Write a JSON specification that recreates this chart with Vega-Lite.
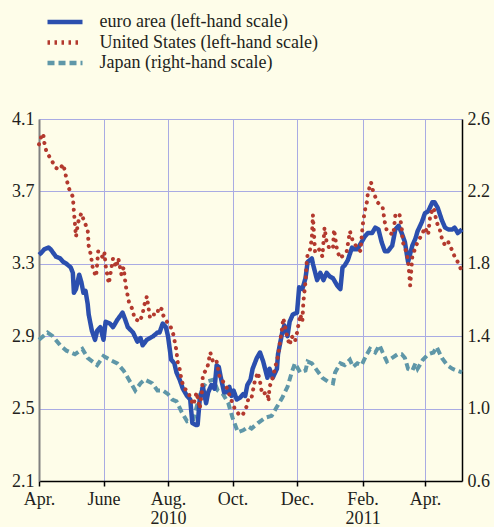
{
  "$schema": "https://vega.github.io/schema/vega-lite/v6.json",
  "width": 423,
  "height": 362,
  "autosize": {"type": "none"},
  "padding": {"left": 39, "top": 119, "right": 32, "bottom": 46},
  "background": "#fefde9",
  "config": {
    "view": {"stroke": null},
    "font": "Liberation Serif",
    "axis": {"labelFont": "Liberation Serif", "labelFontSize": 18, "labelColor": "#231f20"},
    "legend": {"labelFont": "Liberation Serif", "labelLimit": 400}
  },
  "datasets": {
    "ea": [
      {"date":"2010-04-01","value":3.35},{"date":"2010-04-03","value":3.36},{"date":"2010-04-06","value":3.38},{"date":"2010-04-10","value":3.39},{"date":"2010-04-12","value":3.38},{"date":"2010-04-17","value":3.34},{"date":"2010-04-21","value":3.33},{"date":"2010-04-24","value":3.31},{"date":"2010-04-27","value":3.30},{"date":"2010-04-29","value":3.29},{"date":"2010-05-01","value":3.28},{"date":"2010-05-03","value":3.25},{"date":"2010-05-04","value":3.14},{"date":"2010-05-06","value":3.16},{"date":"2010-05-09","value":3.24},{"date":"2010-05-11","value":3.20},{"date":"2010-05-13","value":3.14},{"date":"2010-05-15","value":3.15},{"date":"2010-05-17","value":3.08},{"date":"2010-05-18","value":3.02},{"date":"2010-05-21","value":2.93},{"date":"2010-05-24","value":2.88},{"date":"2010-05-26","value":2.93},{"date":"2010-05-29","value":2.95},{"date":"2010-06-01","value":2.88},{"date":"2010-06-03","value":2.98},{"date":"2010-06-07","value":2.97},{"date":"2010-06-10","value":2.95},{"date":"2010-06-14","value":2.99},{"date":"2010-06-19","value":3.03},{"date":"2010-06-21","value":3.00},{"date":"2010-06-24","value":2.95},{"date":"2010-06-29","value":2.92},{"date":"2010-07-03","value":2.87},{"date":"2010-07-06","value":2.89},{"date":"2010-07-08","value":2.85},{"date":"2010-07-12","value":2.88},{"date":"2010-07-15","value":2.89},{"date":"2010-07-18","value":2.90},{"date":"2010-07-22","value":2.92},{"date":"2010-07-24","value":2.92},{"date":"2010-07-27","value":2.97},{"date":"2010-07-30","value":2.95},{"date":"2010-08-01","value":2.90},{"date":"2010-08-04","value":2.77},{"date":"2010-08-07","value":2.75},{"date":"2010-08-09","value":2.70},{"date":"2010-08-12","value":2.66},{"date":"2010-08-15","value":2.61},{"date":"2010-08-19","value":2.57},{"date":"2010-08-22","value":2.55},{"date":"2010-08-24","value":2.42},{"date":"2010-08-27","value":2.41},{"date":"2010-08-29","value":2.41},{"date":"2010-08-31","value":2.55},{"date":"2010-09-03","value":2.62},{"date":"2010-09-06","value":2.53},{"date":"2010-09-08","value":2.59},{"date":"2010-09-11","value":2.63},{"date":"2010-09-14","value":2.61},{"date":"2010-09-16","value":2.74},{"date":"2010-09-18","value":2.73},{"date":"2010-09-20","value":2.67},{"date":"2010-09-23","value":2.59},{"date":"2010-09-26","value":2.59},{"date":"2010-09-28","value":2.62},{"date":"2010-09-30","value":2.57},{"date":"2010-10-02","value":2.60},{"date":"2010-10-05","value":2.55},{"date":"2010-10-08","value":2.56},{"date":"2010-10-11","value":2.58},{"date":"2010-10-13","value":2.57},{"date":"2010-10-15","value":2.63},{"date":"2010-10-18","value":2.66},{"date":"2010-10-20","value":2.72},{"date":"2010-10-24","value":2.78},{"date":"2010-10-27","value":2.81},{"date":"2010-10-30","value":2.76},{"date":"2010-11-03","value":2.67},{"date":"2010-11-05","value":2.72},{"date":"2010-11-08","value":2.67},{"date":"2010-11-12","value":2.72},{"date":"2010-11-13","value":2.80},{"date":"2010-11-17","value":2.92},{"date":"2010-11-19","value":2.96},{"date":"2010-11-22","value":2.90},{"date":"2010-11-24","value":2.98},{"date":"2010-11-27","value":3.02},{"date":"2010-12-01","value":3.03},{"date":"2010-12-03","value":3.17},{"date":"2010-12-06","value":3.16},{"date":"2010-12-09","value":3.22},{"date":"2010-12-11","value":3.31},{"date":"2010-12-15","value":3.33},{"date":"2010-12-16","value":3.30},{"date":"2010-12-20","value":3.21},{"date":"2010-12-23","value":3.25},{"date":"2010-12-26","value":3.21},{"date":"2010-12-29","value":3.25},{"date":"2011-01-01","value":3.23},{"date":"2011-01-04","value":3.22},{"date":"2011-01-08","value":3.18},{"date":"2011-01-11","value":3.16},{"date":"2011-01-13","value":3.28},{"date":"2011-01-15","value":3.29},{"date":"2011-01-18","value":3.32},{"date":"2011-01-22","value":3.39},{"date":"2011-01-23","value":3.38},{"date":"2011-01-27","value":3.38},{"date":"2011-01-31","value":3.42},{"date":"2011-02-03","value":3.45},{"date":"2011-02-06","value":3.47},{"date":"2011-02-10","value":3.47},{"date":"2011-02-13","value":3.50},{"date":"2011-02-16","value":3.49},{"date":"2011-02-19","value":3.42},{"date":"2011-02-22","value":3.37},{"date":"2011-02-25","value":3.37},{"date":"2011-03-01","value":3.40},{"date":"2011-03-04","value":3.49},{"date":"2011-03-07","value":3.51},{"date":"2011-03-10","value":3.47},{"date":"2011-03-13","value":3.42},{"date":"2011-03-16","value":3.31},{"date":"2011-03-20","value":3.40},{"date":"2011-03-23","value":3.44},{"date":"2011-03-25","value":3.48},{"date":"2011-03-29","value":3.53},{"date":"2011-04-01","value":3.58},{"date":"2011-04-04","value":3.59},{"date":"2011-04-08","value":3.64},{"date":"2011-04-10","value":3.64},{"date":"2011-04-13","value":3.61},{"date":"2011-04-17","value":3.54},{"date":"2011-04-20","value":3.50},{"date":"2011-04-23","value":3.49},{"date":"2011-04-27","value":3.49},{"date":"2011-04-29","value":3.50},{"date":"2011-05-02","value":3.47},{"date":"2011-05-06","value":3.49}
    ],
    "us": [
      {"date":"2010-04-01","value":3.96},{"date":"2010-04-03","value":4.00},{"date":"2010-04-05","value":4.02},{"date":"2010-04-06","value":3.97},{"date":"2010-04-08","value":3.92},{"date":"2010-04-12","value":3.88},{"date":"2010-04-17","value":3.83},{"date":"2010-04-20","value":3.82},{"date":"2010-04-24","value":3.85},{"date":"2010-04-27","value":3.77},{"date":"2010-04-29","value":3.72},{"date":"2010-05-03","value":3.67},{"date":"2010-05-04","value":3.59},{"date":"2010-05-06","value":3.45},{"date":"2010-05-08","value":3.53},{"date":"2010-05-11","value":3.58},{"date":"2010-05-14","value":3.53},{"date":"2010-05-17","value":3.49},{"date":"2010-05-18","value":3.40},{"date":"2010-05-20","value":3.35},{"date":"2010-05-22","value":3.27},{"date":"2010-05-25","value":3.23},{"date":"2010-05-27","value":3.37},{"date":"2010-06-01","value":3.33},{"date":"2010-06-02","value":3.36},{"date":"2010-06-03","value":3.29},{"date":"2010-06-06","value":3.19},{"date":"2010-06-10","value":3.33},{"date":"2010-06-13","value":3.28},{"date":"2010-06-15","value":3.33},{"date":"2010-06-18","value":3.24},{"date":"2010-06-20","value":3.28},{"date":"2010-06-22","value":3.18},{"date":"2010-06-25","value":3.09},{"date":"2010-06-29","value":3.04},{"date":"2010-06-30","value":3.00},{"date":"2010-07-05","value":2.98},{"date":"2010-07-08","value":3.02},{"date":"2010-07-09","value":3.06},{"date":"2010-07-12","value":3.12},{"date":"2010-07-15","value":3.00},{"date":"2010-07-18","value":3.02},{"date":"2010-07-22","value":3.02},{"date":"2010-07-23","value":3.06},{"date":"2010-07-26","value":3.05},{"date":"2010-07-27","value":3.02},{"date":"2010-07-31","value":2.98},{"date":"2010-08-03","value":2.96},{"date":"2010-08-06","value":2.91},{"date":"2010-08-09","value":2.82},{"date":"2010-08-10","value":2.76},{"date":"2010-08-12","value":2.72},{"date":"2010-08-14","value":2.65},{"date":"2010-08-17","value":2.61},{"date":"2010-08-20","value":2.59},{"date":"2010-08-25","value":2.52},{"date":"2010-08-28","value":2.59},{"date":"2010-08-29","value":2.56},{"date":"2010-08-31","value":2.50},{"date":"2010-09-02","value":2.59},{"date":"2010-09-03","value":2.69},{"date":"2010-09-07","value":2.72},{"date":"2010-09-10","value":2.81},{"date":"2010-09-13","value":2.75},{"date":"2010-09-16","value":2.76},{"date":"2010-09-19","value":2.67},{"date":"2010-09-22","value":2.65},{"date":"2010-09-26","value":2.61},{"date":"2010-09-29","value":2.56},{"date":"2010-10-03","value":2.50},{"date":"2010-10-08","value":2.46},{"date":"2010-10-11","value":2.47},{"date":"2010-10-15","value":2.52},{"date":"2010-10-16","value":2.56},{"date":"2010-10-19","value":2.56},{"date":"2010-10-22","value":2.65},{"date":"2010-10-25","value":2.70},{"date":"2010-10-27","value":2.65},{"date":"2010-10-29","value":2.58},{"date":"2010-11-03","value":2.59},{"date":"2010-11-04","value":2.54},{"date":"2010-11-05","value":2.62},{"date":"2010-11-08","value":2.67},{"date":"2010-11-10","value":2.72},{"date":"2010-11-13","value":2.79},{"date":"2010-11-15","value":2.87},{"date":"2010-11-17","value":2.95},{"date":"2010-11-18","value":3.00},{"date":"2010-11-22","value":2.89},{"date":"2010-11-24","value":2.85},{"date":"2010-11-26","value":2.90},{"date":"2010-11-29","value":2.87},{"date":"2010-12-01","value":2.92},{"date":"2010-12-04","value":3.02},{"date":"2010-12-06","value":2.98},{"date":"2010-12-07","value":3.09},{"date":"2010-12-09","value":3.20},{"date":"2010-12-10","value":3.30},{"date":"2010-12-11","value":3.35},{"date":"2010-12-13","value":3.37},{"date":"2010-12-15","value":3.44},{"date":"2010-12-16","value":3.57},{"date":"2010-12-18","value":3.37},{"date":"2010-12-21","value":3.39},{"date":"2010-12-25","value":3.34},{"date":"2010-12-27","value":3.50},{"date":"2010-12-29","value":3.42},{"date":"2011-01-01","value":3.38},{"date":"2011-01-04","value":3.39},{"date":"2011-01-05","value":3.49},{"date":"2011-01-08","value":3.37},{"date":"2011-01-11","value":3.33},{"date":"2011-01-14","value":3.35},{"date":"2011-01-17","value":3.37},{"date":"2011-01-20","value":3.48},{"date":"2011-01-23","value":3.42},{"date":"2011-01-27","value":3.39},{"date":"2011-01-30","value":3.37},{"date":"2011-02-01","value":3.51},{"date":"2011-02-03","value":3.59},{"date":"2011-02-05","value":3.64},{"date":"2011-02-06","value":3.69},{"date":"2011-02-09","value":3.75},{"date":"2011-02-11","value":3.70},{"date":"2011-02-15","value":3.64},{"date":"2011-02-17","value":3.63},{"date":"2011-02-20","value":3.61},{"date":"2011-02-22","value":3.53},{"date":"2011-02-24","value":3.48},{"date":"2011-02-27","value":3.47},{"date":"2011-03-02","value":3.46},{"date":"2011-03-04","value":3.57},{"date":"2011-03-07","value":3.56},{"date":"2011-03-08","value":3.57},{"date":"2011-03-10","value":3.50},{"date":"2011-03-11","value":3.42},{"date":"2011-03-13","value":3.39},{"date":"2011-03-15","value":3.35},{"date":"2011-03-16","value":3.31},{"date":"2011-03-17","value":3.25},{"date":"2011-03-18","value":3.18},{"date":"2011-03-20","value":3.34},{"date":"2011-03-23","value":3.39},{"date":"2011-03-25","value":3.42},{"date":"2011-03-29","value":3.46},{"date":"2011-04-01","value":3.50},{"date":"2011-04-04","value":3.46},{"date":"2011-04-06","value":3.57},{"date":"2011-04-09","value":3.61},{"date":"2011-04-10","value":3.59},{"date":"2011-04-12","value":3.53},{"date":"2011-04-15","value":3.49},{"date":"2011-04-17","value":3.44},{"date":"2011-04-20","value":3.40},{"date":"2011-04-23","value":3.42},{"date":"2011-04-27","value":3.37},{"date":"2011-04-29","value":3.34},{"date":"2011-05-02","value":3.31},{"date":"2011-05-05","value":3.27}
    ],
    "jp": [
      {"date":"2010-04-01","value":1.38},{"date":"2010-04-09","value":1.42},{"date":"2010-04-14","value":1.40},{"date":"2010-04-21","value":1.35},{"date":"2010-04-27","value":1.32},{"date":"2010-05-05","value":1.30},{"date":"2010-05-12","value":1.33},{"date":"2010-05-17","value":1.28},{"date":"2010-05-26","value":1.24},{"date":"2010-06-01","value":1.29},{"date":"2010-06-07","value":1.27},{"date":"2010-06-14","value":1.25},{"date":"2010-06-20","value":1.21},{"date":"2010-06-26","value":1.15},{"date":"2010-07-01","value":1.10},{"date":"2010-07-06","value":1.14},{"date":"2010-07-10","value":1.16},{"date":"2010-07-17","value":1.14},{"date":"2010-07-22","value":1.10},{"date":"2010-07-27","value":1.10},{"date":"2010-08-01","value":1.08},{"date":"2010-08-05","value":1.05},{"date":"2010-08-09","value":1.04},{"date":"2010-08-14","value":0.98},{"date":"2010-08-19","value":0.93},{"date":"2010-08-25","value":0.94},{"date":"2010-08-29","value":1.03},{"date":"2010-09-02","value":1.11},{"date":"2010-09-07","value":1.15},{"date":"2010-09-13","value":1.16},{"date":"2010-09-17","value":1.10},{"date":"2010-09-22","value":1.08},{"date":"2010-09-27","value":1.03},{"date":"2010-10-01","value":0.95},{"date":"2010-10-06","value":0.87},{"date":"2010-10-11","value":0.88},{"date":"2010-10-16","value":0.90},{"date":"2010-10-19","value":0.89},{"date":"2010-10-25","value":0.92},{"date":"2010-11-01","value":0.95},{"date":"2010-11-07","value":0.96},{"date":"2010-11-12","value":1.01},{"date":"2010-11-17","value":1.06},{"date":"2010-11-22","value":1.12},{"date":"2010-11-26","value":1.20},{"date":"2010-11-29","value":1.25},{"date":"2010-12-04","value":1.20},{"date":"2010-12-09","value":1.21},{"date":"2010-12-11","value":1.26},{"date":"2010-12-15","value":1.25},{"date":"2010-12-20","value":1.21},{"date":"2010-12-25","value":1.17},{"date":"2010-12-30","value":1.15},{"date":"2011-01-04","value":1.14},{"date":"2011-01-06","value":1.20},{"date":"2011-01-11","value":1.25},{"date":"2011-01-15","value":1.24},{"date":"2011-01-20","value":1.27},{"date":"2011-01-23","value":1.23},{"date":"2011-01-27","value":1.25},{"date":"2011-01-31","value":1.24},{"date":"2011-02-05","value":1.30},{"date":"2011-02-08","value":1.33},{"date":"2011-02-13","value":1.31},{"date":"2011-02-17","value":1.35},{"date":"2011-02-20","value":1.31},{"date":"2011-02-24","value":1.26},{"date":"2011-03-01","value":1.28},{"date":"2011-03-06","value":1.30},{"date":"2011-03-10","value":1.30},{"date":"2011-03-13","value":1.28},{"date":"2011-03-16","value":1.22},{"date":"2011-03-20","value":1.21},{"date":"2011-03-23","value":1.25},{"date":"2011-03-25","value":1.22},{"date":"2011-03-30","value":1.27},{"date":"2011-04-04","value":1.30},{"date":"2011-04-09","value":1.31},{"date":"2011-04-12","value":1.34},{"date":"2011-04-17","value":1.28},{"date":"2011-04-22","value":1.24},{"date":"2011-04-27","value":1.22},{"date":"2011-05-01","value":1.21},{"date":"2011-05-06","value":1.20}
    ]
  },
  "encoding": {
    "x": {
      "field": "date",
      "type": "temporal",
      "scale": {"type": "utc", "domain": [{"year": 2010, "month": 4, "date": 1, "utc": true}, {"year": 2011, "month": 5, "date": 6, "utc": true}]},
      "axis": {
        "title": null,
        "values": [
          {"year": 2010, "month": 4, "date": 1, "utc": true},
          {"year": 2010, "month": 6, "date": 1, "utc": true},
          {"year": 2010, "month": 8, "date": 1, "utc": true},
          {"year": 2010, "month": 10, "date": 1, "utc": true},
          {"year": 2010, "month": 12, "date": 1, "utc": true},
          {"year": 2011, "month": 2, "date": 1, "utc": true},
          {"year": 2011, "month": 4, "date": 1, "utc": true}
        ],
        "labelExpr": "utcmonth(datum.value) == 3 ? 'Apr.' : utcmonth(datum.value) == 5 ? 'June' : utcmonth(datum.value) == 7 ? ['Aug.', '2010'] : utcmonth(datum.value) == 9 ? 'Oct.' : utcmonth(datum.value) == 11 ? 'Dec.' : ['Feb.', '2011']",
        "labelFont": "Liberation Serif",
        "labelFontSize": 18,
        "labelAlign": "center",
        "labelFlush": false,
        "labelOverlap": false,
        "labelLineHeight": 19,
        "labelPadding": 4,
        "grid": true,
        "gridColor": "#a9abe3",
        "gridWidth": 1,
        "domainColor": "#000000",
        "domainWidth": 1.5,
        "tickColor": "#000000",
        "tickSize": 5,
        "tickWidth": 1.5
      }
    }
  },
  "layer": [
    {
      "data": {"name": "jp"},
      "mark": {"type": "line", "strokeWidth": 4, "strokeCap": "butt", "strokeJoin": "miter"},
      "encoding": {
        "y": {
          "field": "value", "type": "quantitative",
          "scale": {"domain": [0.6, 2.6], "nice": false, "zero": false},
          "axis": {"orient": "right", "title": null, "values": [0.6, 1.0, 1.4, 1.8, 2.2, 2.6], "format": ".1f", "labelFont": "Liberation Serif", "labelFontSize": 18, "grid": false, "domainColor": "#000000", "domainWidth": 1.5, "ticks": false, "labelPadding": 5}
        },
        "color": {
          "datum": "JP", "type": "nominal",
          "scale": {"domain": ["EA", "US", "JP"], "range": ["#2b4fae", "#b3392e", "#5f97a8"]},
          "legend": {"title": null, "orient": "none", "legendX": 15, "legendY": -108, "symbolType": "M-2,0H2", "symbolSize": 306, "symbolStrokeWidth": 4.5, "symbolFillColor": "transparent", "labelFont": "Liberation Serif", "labelFontSize": 18, "labelColor": "#231f20", "labelLimit": 400, "labelOffset": 23.5, "rowPadding": 0.5, "labelExpr": "datum.label == 'EA' ? 'euro area (left-hand scale)' : datum.label == 'US' ? 'United States (left-hand scale)' : 'Japan (right-hand scale)'"}
        },
        "strokeDash": {
          "datum": "JP", "type": "nominal",
          "scale": {"domain": ["EA", "US", "JP"], "range": [[1, 0], [2.5, 4.5], [7, 4]]},
          "legend": {"title": null, "orient": "none", "legendX": 15, "legendY": -108, "symbolType": "M-2,0H2", "symbolSize": 306, "symbolStrokeWidth": 4.5, "symbolFillColor": "transparent", "labelFont": "Liberation Serif", "labelFontSize": 18, "labelColor": "#231f20", "labelLimit": 400, "labelOffset": 23.5, "rowPadding": 0.5, "labelExpr": "datum.label == 'EA' ? 'euro area (left-hand scale)' : datum.label == 'US' ? 'United States (left-hand scale)' : 'Japan (right-hand scale)'"}
        }
      }
    },
    {
      "data": {"name": "ea"},
      "mark": {"type": "line", "strokeWidth": 4.5, "strokeJoin": "round"},
      "encoding": {
        "y": {
          "field": "value", "type": "quantitative",
          "scale": {"domain": [2.1, 4.1], "nice": false, "zero": false},
          "axis": {"orient": "left", "title": null, "values": [2.1, 2.5, 2.9, 3.3, 3.7, 4.1], "format": ".1f", "labelFont": "Liberation Serif", "labelFontSize": 18, "grid": true, "gridColor": "#a9abe3", "gridWidth": 1, "domainColor": "#808080", "domainWidth": 2, "ticks": false, "labelPadding": 5}
        },
        "color": {"datum": "EA", "type": "nominal"},
        "strokeDash": {"datum": "EA", "type": "nominal"}
      }
    },
    {
      "data": {"name": "us"},
      "mark": {"type": "line", "strokeWidth": 4, "strokeCap": "round", "strokeDash": [0.1, 7]},
      "encoding": {
        "y": {
          "field": "value", "type": "quantitative",
          "scale": {"domain": [2.1, 4.1], "nice": false, "zero": false},
          "axis": null
        },
        "color": {"datum": "US", "type": "nominal"}
      }
    }
  ],
  "resolve": {"scale": {"y": "independent"}}
}
